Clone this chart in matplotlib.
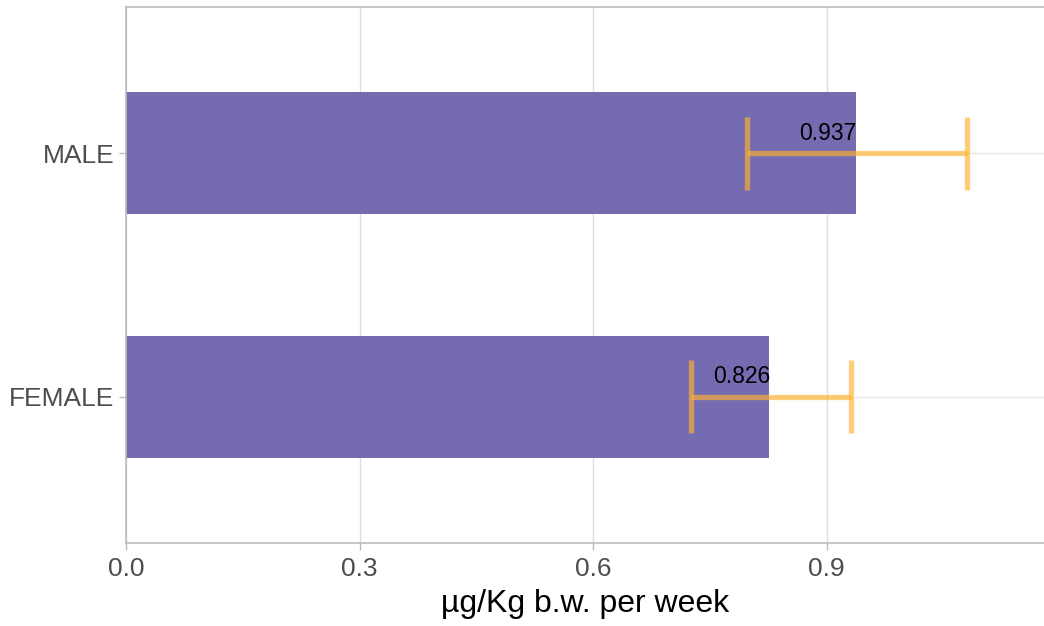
import matplotlib
matplotlib.use("Agg")
import matplotlib.pyplot as plt

plt.rcParams['font.family'] = ['Liberation Sans', 'DejaVu Sans']

# data
groups = ["FEMALE", "MALE"]
means = [0.826, 0.937]
lower = [0.725, 0.798]
upper = [0.931, 1.080]
xticks = [0.0, 0.3, 0.6, 0.9]

fig = plt.figure(figsize=(10.44, 6.26), dpi=100)
ax = fig.add_axes([0.1207, 0.1326, 0.8793, 0.8562])

ypos = list(range(1, len(groups) + 1))

# grid
for t in xticks:
    ax.axvline(t, color='#DEDEDE', linewidth=1, zorder=0)
for y in ypos:
    ax.axhline(y, color='#E6E6E6', linewidth=1, zorder=0)

ax.barh(ypos, means, height=0.5, color='#756BB1', zorder=2)

# error bars
for y, l, u in zip(ypos, lower, upper):
    ax.plot([l, u], [y, y], color='#FFB22E', alpha=0.65, linewidth=3.8,
            solid_capstyle='butt', zorder=3)
    for x in (l, u):
        ax.plot([x, x], [y - 0.15, y + 0.15], color='#FFB22E', alpha=0.65,
                linewidth=3.8, solid_capstyle='butt', zorder=3)

# value labels
for y, m in zip(ypos, means):
    ax.text(m + 0.001, y + 0.035, f"{m:.3f}", ha='right', va='bottom',
            fontsize=16.5, color='black', zorder=4)

ax.set_xlim(0, 1.179)
ax.set_ylim(0.4, 2.6)
ax.set_xticks(xticks)
ax.set_xticklabels([f"{t:.1f}" for t in xticks])
ax.set_yticks(ypos)
ax.set_yticklabels(groups)
ax.tick_params(axis='both', colors='#BBBBBB', labelcolor='#4D4D4D',
               labelsize=19, length=5, width=1)
ax.tick_params(axis='x', pad=5)

for side in ['left', 'bottom', 'top']:
    ax.spines[side].set_color('#BBBBBB')
    ax.spines[side].set_linewidth(1.2)
ax.spines['right'].set_visible(False)

ax.set_xlabel("µg/Kg b.w. per week", fontsize=23, color='black', labelpad=6)

fig.savefig("out.png", dpi=100)
